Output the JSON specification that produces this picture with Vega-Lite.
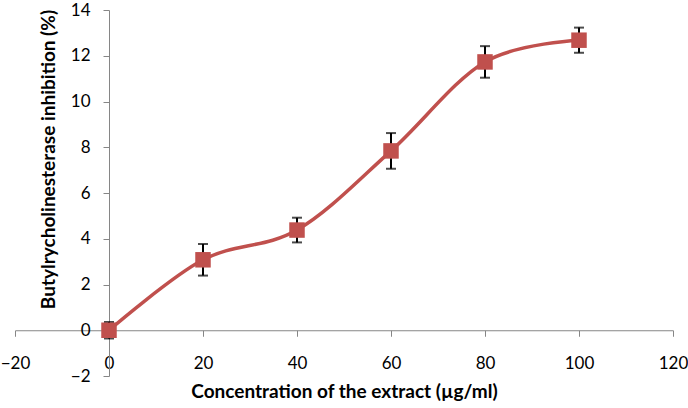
{
  "$schema": "https://vega.github.io/schema/vega-lite/v6.json",
  "width": 658,
  "height": 366,
  "autosize": {"type": "none"},
  "padding": {"left": 15, "top": 10, "right": 15, "bottom": 32},
  "background": "white",
  "config": {
    "view": {"stroke": null},
    "axis": {
      "grid": false,
      "domainColor": "#868686",
      "tickColor": "#868686",
      "tickSize": 6,
      "labelFont": "Lato",
      "labelFontSize": 17,
      "labelColor": "#000000",
      "titleFont": "Lato",
      "titleFontSize": 19,
      "titleFontWeight": "bold",
      "titleColor": "#000000"
    }
  },
  "data": {
    "values": [
      {"conc": 0, "inhibition": 0, "sd": 0.36},
      {"conc": 20, "inhibition": 3.08, "sd": 0.69},
      {"conc": 40, "inhibition": 4.38, "sd": 0.54},
      {"conc": 60, "inhibition": 7.84, "sd": 0.78},
      {"conc": 80, "inhibition": 11.73, "sd": 0.69},
      {"conc": 100, "inhibition": 12.68, "sd": 0.55}
    ]
  },
  "encoding": {
    "x": {
      "field": "conc",
      "type": "quantitative",
      "scale": {"domain": [-20, 120], "nice": false, "zero": false},
      "axis": {
        "title": "Concentration of the extract (µg/ml)",
        "values": [-20, 0, 20, 40, 60, 80, 100, 120],
        "offset": -45.75,
        "labelPadding": 19,
        "titlePadding": 11,
        "labelFlush": false
      }
    },
    "y": {
      "field": "inhibition",
      "type": "quantitative",
      "scale": {"domain": [-2, 14], "nice": false, "zero": false},
      "axis": {
        "title": "Butylrycholinesterase inhibition (%)",
        "values": [-2, 0, 2, 4, 6, 8, 10, 12, 14],
        "offset": -94,
        "labelPadding": 13,
        "titlePadding": 12,
        "titleY": 149,
        "labelFlush": false
      }
    }
  },
  "layer": [
    {
      "mark": {
        "type": "errorbar",
        "ticks": {"size": 10, "thickness": 2, "color": "#000000"},
        "rule": {"strokeWidth": 2, "color": "#000000"}
      },
      "encoding": {
        "yError": {"field": "sd"}
      }
    },
    {
      "mark": {"type": "line", "interpolate": "cardinal", "color": "#C0504D", "strokeWidth": 3.5}
    },
    {
      "mark": {"type": "point", "shape": "square", "filled": true, "size": 240, "color": "#C0504D", "opacity": 1}
    }
  ]
}
